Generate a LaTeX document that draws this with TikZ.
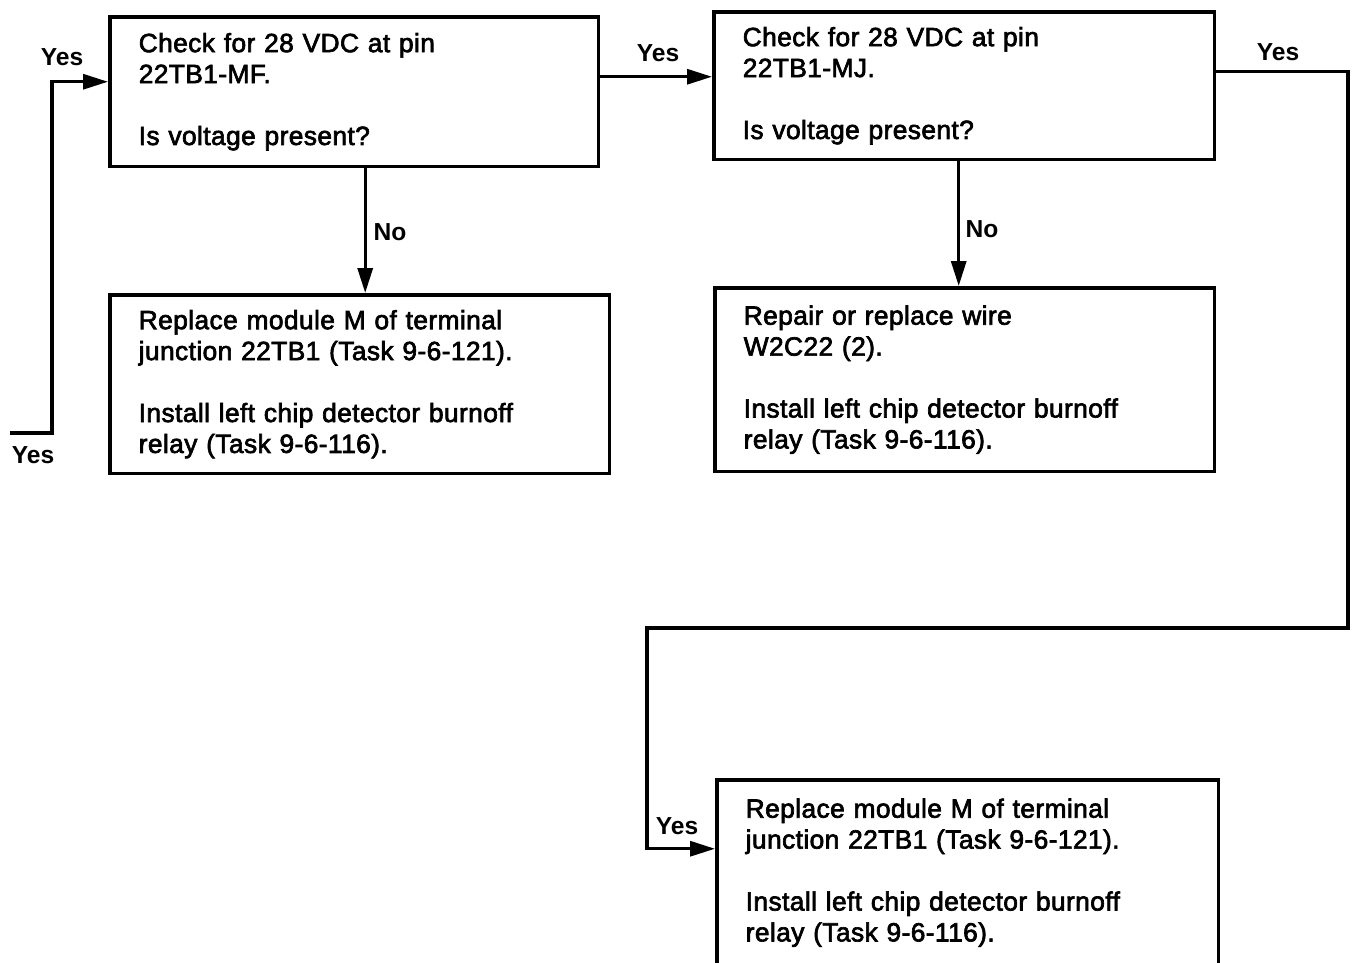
\documentclass[tikz,border=0pt]{standalone}
\usepackage{fontspec}
\setmainfont{Liberation Sans}[LetterSpace=1.5, FakeBold=2.5]
\newfontfamily\lblfont{Liberation Sans Bold}
\usetikzlibrary{arrows.meta}

\begin{document}
\begin{tikzpicture}[
  x=0.02cm, y=-0.02cm,
  font=\fontsize{15}{17.6}\selectfont,
  >={Triangle[length=0.5cm,width=0.3cm]},
  box/.style={draw=black, line width=2pt, anchor=north west, align=left,
              inner xsep=0.58cm, inner ysep=0pt},
  lbl/.style={font=\fontsize{14}{15}\selectfont\lblfont, inner sep=1pt},
  arr/.style={->, draw=black, line width=1.8pt}
]
\useasboundingbox (0,0) rectangle (1353,963);
% ---------------- checks
\node[box, text width=8.62cm, minimum height=3.00cm] (c1) at (108,15)
  {Check for 28 VDC at pin\\ 22TB1-MF.\\[0.62cm] Is voltage present?};
\node[box, text width=8.86cm, minimum height=2.96cm] (c2) at (712,10)
  {Check for 28 VDC at pin\\ 22TB1-MJ.\\[0.62cm] Is voltage present?};
% ---------------- results
\node[box, text width=8.84cm, minimum height=3.58cm] (r1) at (108,293)
  {Replace module M of terminal\\ junction 22TB1 (Task 9-6-121).\\[0.62cm] Install left chip detector burnoff\\ relay (Task 9-6-116).};
\node[box, text width=8.84cm, minimum height=3.68cm] (r2) at (713,286)
  {Repair or replace wire\\ W2C22 (2).\\[0.62cm] Install left chip detector burnoff\\ relay (Task 9-6-116).};
\node[box, text width=8.88cm, minimum height=3.72cm] (r3) at (715,778)
  {Replace module M of terminal\\ junction 22TB1 (Task 9-6-121).\\[0.62cm] Install left chip detector burnoff\\ relay (Task 9-6-116).};
% ---------------- entry
\coordinate (in0) at (10,433);
\coordinate (in1) at (52,433);
\draw[arr] (in0) -- (in1) |- ([yshift=0.2cm]c1.west);
\node[lbl] (y0) at (62,57) {Yes};
\node[lbl] (y1) at (33,455) {Yes};
% ---------------- flow
\draw[arr] ([yshift=0.3cm]c1.east) -- ([yshift=0.3cm]c1.east -| c2.west);
\node[lbl] (y2) at (658,53) {Yes};
\draw[arr] ([xshift=0.22cm]c1.south) -- ([xshift=0.22cm]c1.south |- r1.north);
\node[lbl] (n1) at (390,232) {No};
\draw[arr] ([xshift=-0.11cm]c2.south) -- ([xshift=-0.11cm]c2.south |- r2.north);
\node[lbl] (n2) at (982,229) {No};
\coordinate (t1) at (1348,628);
\coordinate (t2) at (647,628);
\draw[arr] ([yshift=0.28cm]c2.east) -| (t1) -- (t2) |- ([yshift=0.48cm]r3.west);
\node[lbl] (y3) at (1278,52) {Yes};
\node[lbl] (y4) at (677,826) {Yes};
\end{tikzpicture}
\end{document}
